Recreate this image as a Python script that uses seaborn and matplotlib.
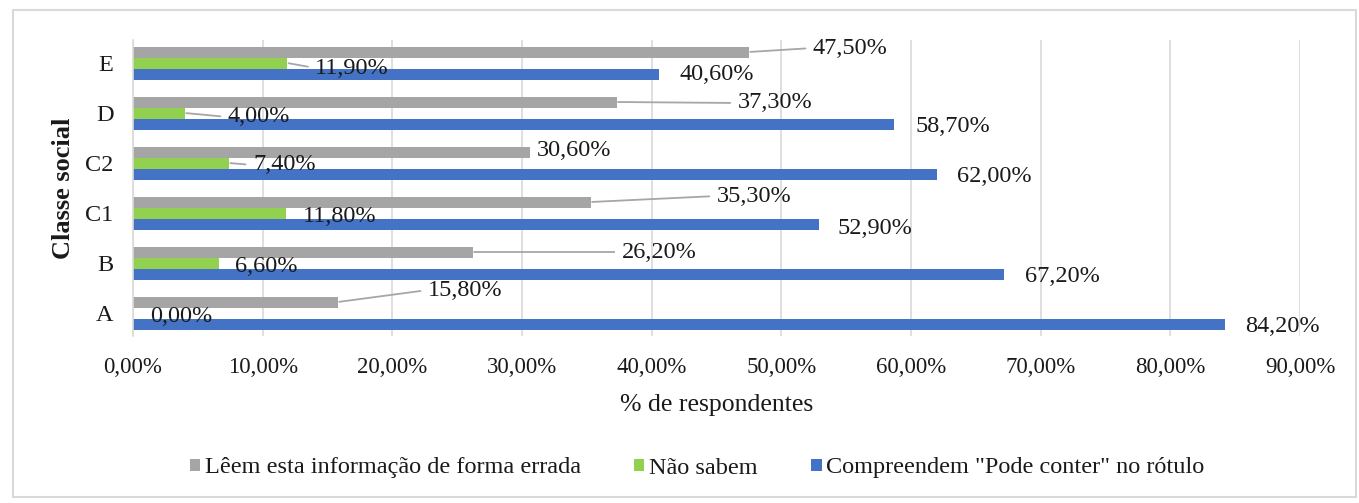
import matplotlib
matplotlib.use("Agg")
import matplotlib.pyplot as plt
import seaborn as sns
import pandas as pd
from matplotlib.patches import Rectangle
from matplotlib.ticker import FuncFormatter

# ---------------- data ----------------
classes = ["E", "D", "C2", "C1", "B", "A"]
series_names = ["Lêem esta informação de forma errada", "Não sabem",
                'Compreendem "Pode conter" no rótulo']
le_errado = [47.5, 37.3, 30.6, 35.3, 26.2, 15.8]
nao_sabem = [11.9, 4.0, 7.4, 11.8, 6.6, 0.0]
compreendem = [40.6, 58.7, 62.0, 52.9, 67.2, 84.2]
x_ticks = [0, 10, 20, 30, 40, 50, 60, 70, 80, 90]

colors = ["#A5A5A5", "#92D050", "#4472C4"]

# label offsets (pixels, image direction: +dy = down) and leader-line flags
label_offsets = {
    0: [(64, -4), (121, 1), (7, -1), (126, -6), (149, 0), (90, -12)],
    1: [(28, 5), (43, 4), (24, 2), (17, 3), (16, 4), (17, 3)],
    2: [(20, 1), (21, 3), (20, 3), (19, 4), (21, 2), (20, 2)],
}
leaders = {
    0: [True, True, False, True, True, True],
    1: [True, True, True, False, False, False],
    2: [False] * 6,
}

rows = []
for name, vals in zip(series_names, [le_errado, nao_sabem, compreendem]):
    for c, v in zip(classes, vals):
        rows.append({"classe": c, "serie": name, "valor": v})
df = pd.DataFrame(rows)

sns.set_theme(style="white")
plt.rcParams["font.family"] = ["Liberation Serif", "DejaVu Serif"]

W, H = 1359, 503
fig = plt.figure(figsize=(W / 100, H / 100), dpi=100)
ax_l, ax_r, ax_t, ax_b = 133, 1300, 40, 336
ax = fig.add_axes([ax_l / W, 1 - ax_b / H, (ax_r - ax_l) / W, (ax_b - ax_t) / H])

sns.barplot(data=df, x="valor", y="classe", hue="serie", orient="h",
            order=classes, hue_order=series_names, palette=colors,
            width=0.66, saturation=1, linewidth=0, ax=ax, legend=True)

ax.set_xlim(0, 90)
ax.set_ylim(5.46, -0.46)
ax.set_xticks(x_ticks)
ax.xaxis.set_major_formatter(FuncFormatter(lambda v, p: f"{v:.2f}".replace(".", ",") + "%"))
ax.grid(axis="x", color="#D9D9D9", linewidth=1.2)
ax.grid(axis="y", visible=False)
ax.set_axisbelow(True)
for s in ["top", "right", "bottom"]:
    ax.spines[s].set_visible(False)
ax.spines["left"].set_color("#D9D9D9")
ax.spines["left"].set_linewidth(1.2)
ax.tick_params(axis="x", length=0, pad=15, labelsize=16.5, labelcolor="#1a1a1a")
ax.tick_params(axis="y", length=0, pad=14, labelsize=17.5, labelcolor="#1a1a1a")

ax.set_xlabel("% de respondentes", fontsize=18.5, color="#1a1a1a")
ax.xaxis.label.set_va("center")
ax.xaxis.set_label_coords(0.5, -0.233)
ax.set_ylabel("Classe social", fontsize=19, fontweight="bold", color="#1a1a1a")
ax.yaxis.set_label_coords(-0.05, 0.5)

# data labels
for si, cont in enumerate(ax.containers):
    vals = [le_errado, nao_sabem, compreendem][si]
    for bi, bar in enumerate(cont):
        v = vals[bi]
        xe = bar.get_x() + bar.get_width()
        yc = bar.get_y() + bar.get_height() / 2
        dx, dy = label_offsets[si][bi]
        txt = f"{v:.2f}".replace(".", ",") + "%"
        kw = {}
        if leaders[si][bi]:
            kw["arrowprops"] = dict(arrowstyle="-", color="#A6A6A6", lw=1.3,
                                    shrinkA=3, shrinkB=1, relpos=(0, 0.5))
        ax.annotate(txt, xy=(xe, yc), xytext=(dx, -dy), textcoords="offset pixels",
                    ha="left", va="center", fontsize=17.5, color="#1a1a1a", **kw)

# legend
handles, labels = ax.get_legend_handles_labels()
ax.get_legend().remove()
fig.legend(handles, labels, loc="center", bbox_to_anchor=(0.513, 1 - 468 / H),
           ncol=3, frameon=False, fontsize=17.5, handlelength=0.42, handleheight=0.42,
           handletextpad=0.2, columnspacing=2.2, labelcolor="#1a1a1a")

# outer frame
fig.patches.append(Rectangle((13 / W, 1 - 497 / H), (1356 - 13) / W, (497 - 10) / H,
                             transform=fig.transFigure, fill=False,
                             edgecolor="#D9D9D9", linewidth=1.5))

fig.savefig("out.png", dpi=100)
